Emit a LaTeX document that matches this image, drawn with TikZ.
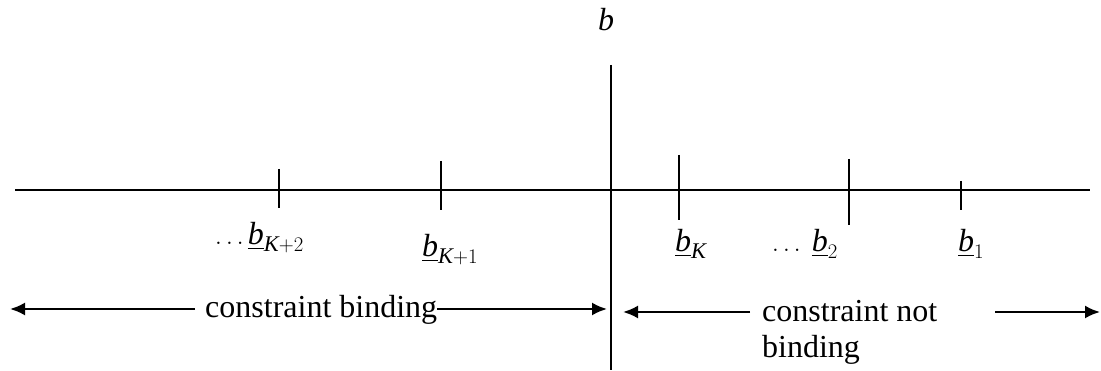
\documentclass[tikz,border=0pt]{standalone}
\usepackage{amsmath}
\usepackage{fontspec}
\setmainfont{Liberation Serif}
\usepackage{tikz}
\usetikzlibrary{arrows.meta,positioning}
\newcommand{\lowb}[1]{\underline{\textit{b}}_{#1}}

\begin{document}
\begin{tikzpicture}[x=1pt,y=-1pt,
  axis/.style={line width=2pt},
  tick/.style={line width=2pt},
  lbl/.style={inner sep=0pt,font=\fontsize{32}{36}\selectfont},
  arrow/.style={-{Latex[length=15pt,width=13pt]},line width=2.2pt}]
\useasboundingbox (0,0) rectangle (1101,371);
% axes
\draw[axis] (15,190) -- (1090,190);
\draw[axis] (611,65) -- (611,370);
\node[lbl] (bvar) at (606,20) {\textit{b}};
% ticks
\draw[tick] (279,169) -- (279,208);
\draw[tick] (441,161) -- (441,210);
\draw[tick] (679,155) -- (679,220);
\draw[tick] (849,159) -- (849,225);
\draw[tick] (961,181) -- (961,210);
% tick labels
\node[lbl,anchor=base west] (bK2) at (215,245) {$\ldots\lowb{\textit{K}+2}$};
\node[lbl,anchor=base west] (bK1) at (422,257) {$\lowb{\textit{K}+1}$};
\node[lbl,anchor=base west] (bK) at (675,252) {$\lowb{\textit{K}}$};
\node[lbl,anchor=base west] (b2) at (772,252) {$\ldots\;\lowb{2}$};
\node[lbl,anchor=base west] (b1) at (958,252) {$\lowb{1}$};
% regions
\node[lbl,anchor=base west] (bind) at (205,318) {constraint binding};
\coordinate (bindA) at (195,309);
\coordinate (bindL) at (10,309);
\coordinate (bindR) at (607,309);
\draw[arrow] (bindA) -- (bindL);
\draw[arrow] (bind.east |- bindR) -- (bindR);
\node[lbl,align=left,anchor=base west] (nbind) at (762,358) {constraint not\\binding};
\coordinate (nbA) at (750,312);
\coordinate (nbB) at (623,312);
\coordinate (nbC) at (995,312);
\coordinate (nbD) at (1100,312);
\draw[arrow] (nbA) -- (nbB);
\draw[arrow] (nbC) -- (nbD);
\end{tikzpicture}
\end{document}
